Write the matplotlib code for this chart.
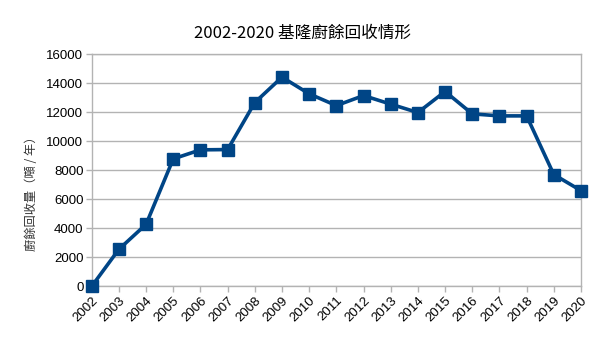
import matplotlib
matplotlib.use("Agg")
import matplotlib.pyplot as plt

# Annual food-waste collection in Keelung (tonnes per year)
years = list(range(2002, 2021))
tonnes = [0, 2550, 4270, 8780, 9400, 9420, 12660, 14410, 13260, 12450,
          13140, 12550, 11970, 13420, 11880, 11740, 11740, 7700, 6590]
yticks = list(range(0, 16001, 2000))

title = "2002-2020 基隆廚餘回收情形"
ylabel = "廚餘回收量（噸 / 年）"

plt.rcParams["font.family"] = ["Liberation Sans", "Noto Sans CJK TC", "DejaVu Sans"]

line_color = "#004586"
grid_color = "#b3b3b3"

fig = plt.figure(figsize=(6.05, 3.4), dpi=100)
ax = fig.add_axes([0.1516, 0.158, 0.8087, 0.683])

ax.plot(years, tonnes, color=line_color, lw=2.6, marker="s", ms=8.5,
        mfc=line_color, mec=line_color, solid_joinstyle="round", zorder=3,
        clip_on=False)

ax.set_xlim(years[0], years[-1])
ax.set_ylim(yticks[0], yticks[-1])
ax.set_xticks(years)
ax.set_xticklabels([str(y) for y in years], rotation=45, ha="right",
                   va="top", rotation_mode="anchor", fontsize=9.5)
ax.set_yticks(yticks)
ax.set_yticklabels([str(v) for v in yticks], fontsize=9.5)

ax.yaxis.grid(True, color=grid_color, lw=1)
ax.set_axisbelow(True)
for side in ax.spines.values():
    side.set_color(grid_color)
    side.set_linewidth(1)
ax.tick_params(axis="both", color=grid_color, length=4, width=1, pad=2)

# title is centred on the whole figure, not the axes
fig.text(0.5, 0.903, title, fontsize=12, ha="center", va="center",
         family=["Noto Sans CJK TC", "DejaVu Sans"])
ax.set_ylabel(ylabel, fontsize=8.8, color="#333333",
              family=["Noto Sans CJK TC", "DejaVu Sans"])
ax.yaxis.set_label_coords(-0.11, 0.41)

fig.savefig("out.png", dpi=100)
